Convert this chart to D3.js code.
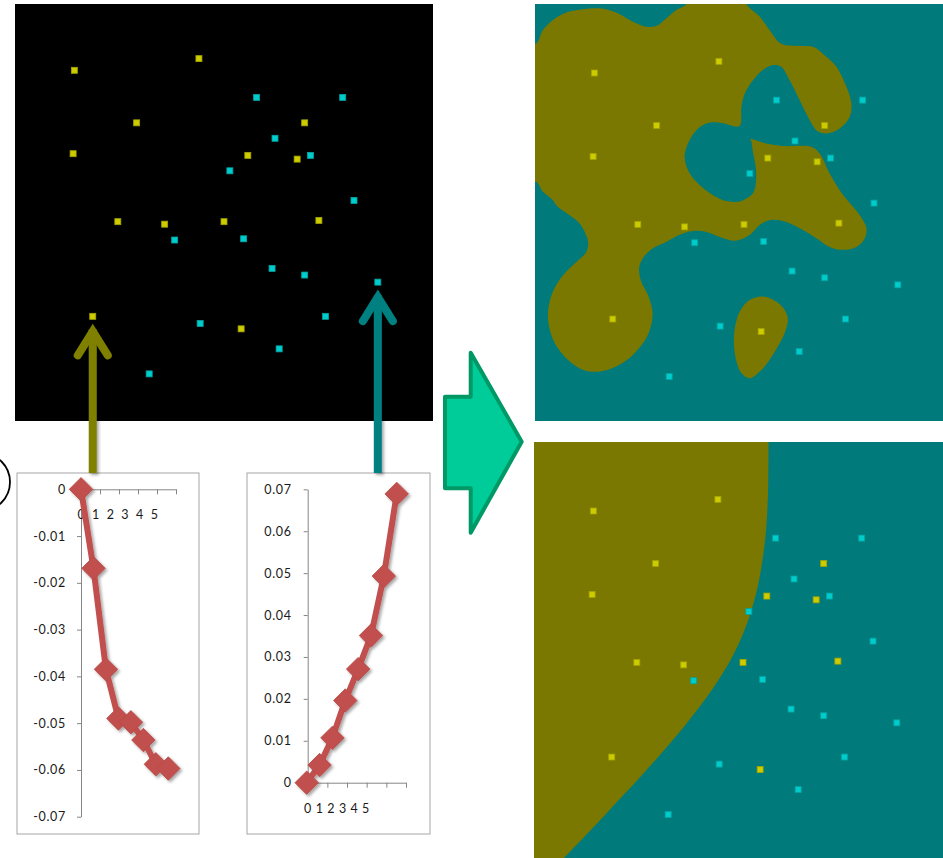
<!DOCTYPE html>
<html><head><meta charset="utf-8">
<script src="https://cdn.jsdelivr.net/npm/d3@7"></script>
<style>body{margin:0;background:#fff}svg{display:block}</style>
</head><body>
<svg id="c" width="943" height="858"></svg>
<script>
// ---------------- data ----------------
// two classes of 2-D samples (feature units 0..10)
const yellowX = [1.42, 4.40, 2.91, 6.93, 1.39, 5.57, 6.75, 2.46, 3.58, 5.00, 7.27, 1.86, 5.41];
const yellowY = [8.41, 8.69, 7.15, 7.15, 6.41, 6.37, 6.28, 4.78, 4.72, 4.78, 4.81, 2.51, 2.21];
const cyanX = [5.78, 7.84, 6.22, 7.07, 5.14, 8.11, 3.82, 5.47, 6.15, 6.93, 8.68, 7.43, 4.43, 6.32, 3.21];
const cyanY = [7.76, 7.76, 6.78, 6.37, 6.00, 5.29, 4.34, 4.37, 3.66, 3.50, 3.33, 2.51, 2.34, 1.73, 1.13];

// weight series of the two small line charts
const leftSeries  = [0, -0.0169, -0.0385, -0.0490, -0.0498, -0.0536, -0.0588, -0.0597];
const rightSeries = [0, 0.0042, 0.0107, 0.0196, 0.0271, 0.0351, 0.0493, 0.0689];
const xTickLabels = ["0", "1", "2", "3", "4", "5"];
const leftYTicks  = [0, -0.01, -0.02, -0.03, -0.04, -0.05, -0.06, -0.07];
const rightYTicks = [0, 0.01, 0.02, 0.03, 0.04, 0.05, 0.06, 0.07];

// decision region of the flexible (RBF-like) classifier, feature units
const rbfRegionMain = [
 [-0.3,9.12],[0.03,9.12],[0.19,9.44],[0.43,9.68],[0.75,9.86],[1.15,9.94],[1.55,9.96],[1.94,9.86],[2.34,9.64],
 [2.66,9.52],[2.90,9.54],[3.14,9.72],[3.38,9.92],[3.62,10.06],[3.70,10.4],[5.00,10.4],[5.06,10.06],
 [5.38,9.76],[5.61,9.44],[5.89,9.11],[6.33,9.06],[6.65,9.04],[6.97,8.80],[7.21,8.56],[7.45,8.08],
 [7.57,7.68],[7.53,7.36],[7.29,7.08],[6.97,6.96],[6.73,7.04],[6.57,7.28],[6.33,7.76],[6.09,8.24],
 [5.89,8.56],[5.69,8.60],[5.45,8.48],[5.22,8.24],[5.02,7.92],[4.94,7.60],[4.91,7.16],[4.82,7.12],
 [4.74,7.14],[4.42,7.22],[4.10,7.20],[3.86,7.04],[3.66,6.72],[3.58,6.40],[3.66,6.08],[3.86,5.80],
 [4.18,5.53],[4.50,5.36],[4.82,5.32],[4.98,5.36],[5.22,5.53],[5.29,5.84],[5.28,6.16],[5.22,6.48],
 [5.17,6.80],[5.15,6.83],[5.53,6.72],[5.93,6.66],[6.61,6.64],[6.81,6.48],[7.05,6.00],[7.29,5.60],
 [7.53,5.29],[7.77,5.00],[7.93,4.69],[7.89,4.45],[7.69,4.24],[7.37,4.17],[7.05,4.24],[6.73,4.45],
 [6.33,4.69],[5.93,4.86],[5.61,4.88],[5.38,4.77],[5.14,4.53],[4.90,4.41],[4.74,4.39],[4.42,4.48],
 [4.10,4.60],[3.78,4.62],[3.46,4.53],[3.14,4.36],[2.82,4.21],[2.58,3.97],[2.49,3.73],[2.54,3.41],
 [2.70,3.09],[2.81,2.69],[2.78,2.37],[2.66,2.05],[2.34,1.65],[1.94,1.37],[1.55,1.25],[1.15,1.29],
 [0.83,1.49],[0.55,1.81],[0.39,2.13],[0.31,2.53],[0.35,2.93],[0.51,3.33],[0.75,3.65],[0.99,3.88],
 [1.23,4.12],[1.27,4.36],[1.19,4.60],[1.03,4.84],[0.75,5.05],[0.51,5.24],[0.43,5.36],[0.19,5.56],
 [0.03,5.80],[-0.3,5.80]
];
const rbfRegionIsland = [
 [5.45,3.05],[5.77,2.93],[5.97,2.73],[6.05,2.49],[5.97,2.17],[5.81,1.85],[5.61,1.53],[5.38,1.25],
 [5.14,1.09],[4.94,1.21],[4.82,1.49],[4.76,1.89],[4.78,2.29],[4.90,2.69],[5.14,2.97]
];
// decision boundary of the smooth (polynomial-like) classifier, feature units
const polyBoundary = [
 [5.61,10.4],[5.61,10.06],[5.61,9.07],[5.578,8.27],[5.540,7.79],[5.502,7.47],[5.420,6.92],[5.354,6.59],
 [5.277,6.28],[5.157,5.88],[5.042,5.56],[4.908,5.24],[4.708,4.84],[4.522,4.52],[4.258,4.12],[3.970,3.72],
 [3.658,3.32],[3.326,2.92],[2.908,2.44],[2.548,2.04],[2.180,1.64],[1.734,1.16],[1.205,0.60],[0.737,0.11],
 [0.343,-0.3]
];

// ---------------- drawing ----------------
const svg = d3.select("#c");
const FONT = "Lato, 'Open Sans', sans-serif";
const OLIVE = "#7a7800", TEAL = "#007a7a";
const defs = svg.append("defs");
const sh = defs.append("filter").attr("id","shadow").attr("x","-50%").attr("y","-20%").attr("width","200%").attr("height","140%");
sh.append("feDropShadow").attr("dx",2).attr("dy",2).attr("stdDeviation",1.6).attr("flood-color","#000").attr("flood-opacity",0.35);

const U = [0, 10];
function scales(x0, x1, y0, y1) {
  return { x: d3.scaleLinear().domain(U).range([x0, x1]), y: d3.scaleLinear().domain(U).range([y0, y1]) };
}
const panels = {
  black: { s: scales(15, 433, 421, 4),       rect: [15, 4, 418, 417] },
  rbf:   { s: scales(535, 953, 423.7, 6.7),  rect: [535, 4, 408, 417] },
  poly:  { s: scales(534, 952, 861.7, 444.7), rect: [534, 442, 409, 416] }
};
const yellowPts = yellowX.map((x, i) => ({ x, y: yellowY[i] }));
const cyanPts = cyanX.map((x, i) => ({ x, y: cyanY[i] }));

function drawPoints(g, s) {
  const put = (pts, fill, stroke) => g.selectAll(null).data(pts).join("rect")
    .attr("x", d => s.x(d.x) - 3).attr("y", d => s.y(d.y) - 3)
    .attr("width", 6).attr("height", 6).attr("fill", fill)
    .attr("stroke", stroke).attr("stroke-width", 0.8);
  put(yellowPts, "#cccc00", "#a3a300");
  put(cyanPts, "#00cccc", "#00a3a3");
}

// black panel with raw points
{
  const p = panels.black, g = svg.append("g");
  g.append("rect").attr("x", p.rect[0]).attr("y", p.rect[1]).attr("width", p.rect[2]).attr("height", p.rect[3]).attr("fill", "#000");
  drawPoints(g, p.s);
}

function mapBase(p, id) {
  defs.append("clipPath").attr("id", id).append("rect")
    .attr("x", p.rect[0]).attr("y", p.rect[1]).attr("width", p.rect[2]).attr("height", p.rect[3]);
  const g = svg.append("g").attr("clip-path", `url(#${id})`);
  g.append("rect").attr("x", p.rect[0]).attr("y", p.rect[1]).attr("width", p.rect[2]).attr("height", p.rect[3]).attr("fill", TEAL);
  return g;
}
// RBF-like map
{
  const p = panels.rbf, g = mapBase(p, "clipRbf");
  const line = d3.line().x(d => p.s.x(d[0])).y(d => p.s.y(d[1])).curve(d3.curveCatmullRomClosed.alpha(0.5));
  [rbfRegionMain, rbfRegionIsland].forEach(r => g.append("path").attr("d", line(r)).attr("fill", OLIVE));
  drawPoints(g, p.s);
}
// polynomial-like map: olive on the left side of the boundary
{
  const p = panels.poly, g = mapBase(p, "clipPoly");
  const smooth = d3.line().x(d => p.s.x(d[0])).y(d => p.s.y(d[1])).curve(d3.curveBasis);
  const path = smooth(polyBoundary) + "L" + p.s.x(-0.5) + "," + p.s.y(-0.5) + "L" + p.s.x(-0.5) + "," + p.s.y(10.5) + "Z";
  g.append("path").attr("d", path).attr("fill", OLIVE);
  drawPoints(g, p.s);
}

// small line charts
function smallChart(c) {
  const g = svg.append("g");
  g.append("rect").attr("x", c.box[0]).attr("y", c.box[1]).attr("width", c.box[2]).attr("height", c.box[3])
    .attr("fill", "#fff").attr("stroke", "#a6a6a6").attr("stroke-width", 1);
  const y = d3.scaleLinear().domain(c.yDomain).range(c.yRange);
  const fmt = d => d === 0 ? "0" : d.toFixed(2);
  const ya = g.append("g").attr("transform", `translate(${c.axisX},0)`)
    .call(d3.axisLeft(y).tickValues(c.yTicks).tickFormat(fmt).tickSize(4).tickSizeOuter(0).tickPadding(c.yPad));
  ya.selectAll("text").attr("font-family", FONT).attr("font-size", 12.5).attr("fill", "#1a1a1a").attr("letter-spacing", "0.7px");
  const tickX = d3.scaleLinear().domain([0, xTickLabels.length - 1]).range(c.tickRange);
  const xa = g.append("g").attr("transform", `translate(0,${y(0)})`)
    .call(d3.axisBottom(tickX).tickValues(d3.range(xTickLabels.length)).tickFormat("").tickSize(5).tickSizeOuter(0));
  [ya, xa].forEach(a => { a.select(".domain").attr("stroke", "#868686"); a.selectAll(".tick line").attr("stroke", "#868686"); });
  const lab = d3.scalePoint().domain(xTickLabels).range(c.labelRange);
  g.selectAll(null).data(xTickLabels).join("text")
    .attr("x", d => lab(d)).attr("y", y(0) + c.labelDy).attr("text-anchor", "middle")
    .attr("font-family", FONT).attr("font-size", 12.5).attr("fill", "#1a1a1a").text(d => d);
  const x = d3.scaleLinear().domain([0, c.series.length - 1]).range(c.pointRange);
  const s = g.append("g").attr("filter", "url(#shadow)");
  s.append("path").attr("d", d3.line().x((d, i) => x(i)).y(d => y(d))(c.series))
    .attr("fill", "none").attr("stroke", "#c0504d").attr("stroke-width", 6).attr("stroke-linejoin", "round");
  s.selectAll(null).data(c.series).join("path")
    .attr("d", d3.symbol(d3.symbolSquare, 275))
    .attr("transform", (d, i) => `translate(${x(i)},${y(d)}) rotate(45)`)
    .attr("fill", "#c0504d").attr("stroke", "#b84a47").attr("stroke-width", 0.8);
}
smallChart({ box: [17, 473, 182, 361], yDomain: [-0.07, 0], yRange: [816.7, 489.3], yTicks: leftYTicks, yPad: 11,
  axisX: 81, tickRange: [81, 176], labelRange: [81, 154.3], labelDy: 29.5, series: leftSeries, pointRange: [81, 168.3] });
smallChart({ box: [247, 473, 183, 361], yDomain: [0, 0.07], yRange: [782.7, 489.3], yTicks: rightYTicks, yPad: 12,
  axisX: 307.7, tickRange: [307.7, 406], labelRange: [307.7, 365.7], labelDy: 30.5, series: rightSeries, pointRange: [306.7, 396.7] });

// arrows from the charts up to the chosen samples
function upArrow(pt, color) {
  const s = panels.black.s, ax = s.x(pt.x), tip = s.y(pt.y) + 7, bottom = 473;
  const g = svg.append("g").attr("filter", "url(#shadow)");
  g.append("line").attr("x1", ax).attr("x2", ax).attr("y1", bottom).attr("y2", tip + 6)
    .attr("stroke", color).attr("stroke-width", 8);
  g.append("path").attr("d", `M${ax - 15},${tip + 32}L${ax},${tip + 8}L${ax + 15},${tip + 32}`)
    .attr("fill", "none").attr("stroke", color).attr("stroke-width", 8)
    .attr("stroke-linecap", "round").attr("stroke-linejoin", "miter");
}
upArrow(yellowPts[11], "#808000");
upArrow(cyanPts[10], "#008080");

// big block arrow
svg.append("path")
  .attr("d", "M470.7,352.7L521.7,441.7L470.7,532.7L470.7,488.3L445,488.3L445,396.7L470.7,396.7Z")
  .attr("fill", "#00cc99").attr("stroke", "#009966").attr("stroke-width", 4).attr("stroke-linejoin", "round");

// partial circled label at the far left
svg.append("circle").attr("cx", -19).attr("cy", 482).attr("r", 29)
  .attr("fill", "none").attr("stroke", "#000").attr("stroke-width", 1.8);
</script>
</body></html>
